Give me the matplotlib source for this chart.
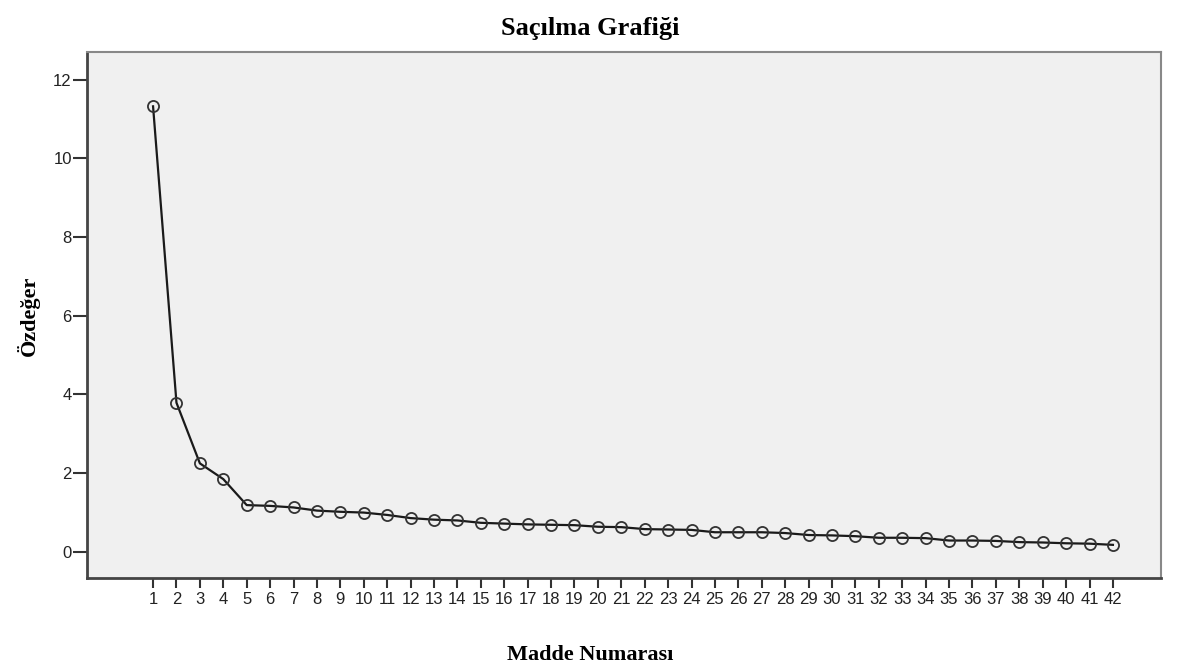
import matplotlib.pyplot as plt

# eigenvalues per item (scree plot)
madde = list(range(1, 43))
ozdeger = [11.32, 3.79, 2.25, 1.85, 1.19, 1.17, 1.13, 1.05, 1.02, 1.00,
           0.94, 0.86, 0.82, 0.80, 0.74, 0.72, 0.70, 0.69, 0.68, 0.64,
           0.63, 0.58, 0.57, 0.56, 0.50, 0.50, 0.50, 0.48, 0.43, 0.42,
           0.40, 0.36, 0.36, 0.35, 0.29, 0.29, 0.28, 0.25, 0.24, 0.22,
           0.21, 0.18]
y_ticks = [0, 2, 4, 6, 8, 10, 12]

plt.rcParams['font.family'] = ['Liberation Sans', 'DejaVu Sans']

fig = plt.figure(figsize=(11.81, 6.72), dpi=100)
ax = fig.add_axes([0.0737, 0.140, 0.9093, 0.7826])
ax.set_facecolor('#f0f0f0')

ax.plot(madde, ozdeger, color='#1a1a1a', linewidth=1.6, marker='o',
        markersize=8, markerfacecolor='none', markeredgecolor='#333333',
        markeredgewidth=1.3)

ax.set_xlim(-1.82, 44.05)
ax.set_ylim(-0.66, 12.7)
ax.set_xticks(madde)
ax.set_xticklabels([str(m) for m in madde])
ax.set_yticks(y_ticks)

ax.tick_params(axis='both', direction='out', width=1.5,
               color='#333333', labelsize=12, labelcolor='#222222')
ax.tick_params(axis='x', length=7, pad=3)
ax.tick_params(axis='y', length=10, pad=1)

for s in ['left', 'bottom']:
    ax.spines[s].set_linewidth(2)
    ax.spines[s].set_color('#444444')
for s in ['top', 'right']:
    ax.spines[s].set_linewidth(1.5)
    ax.spines[s].set_color('#888888')

fig.text(0.5, 0.957, 'Saçılma Grafiği', ha='center', va='center',
         fontsize=19, fontweight='bold', family='Liberation Serif')
fig.text(0.5, 0.025, 'Madde Numarası', ha='center', va='center',
         fontsize=16, fontweight='bold', family='Liberation Serif')
fig.text(0.024, 0.53, 'Özdeğer', ha='center', va='center', rotation=90,
         fontsize=16, fontweight='bold', family='Liberation Serif')

plt.savefig('out.png')
